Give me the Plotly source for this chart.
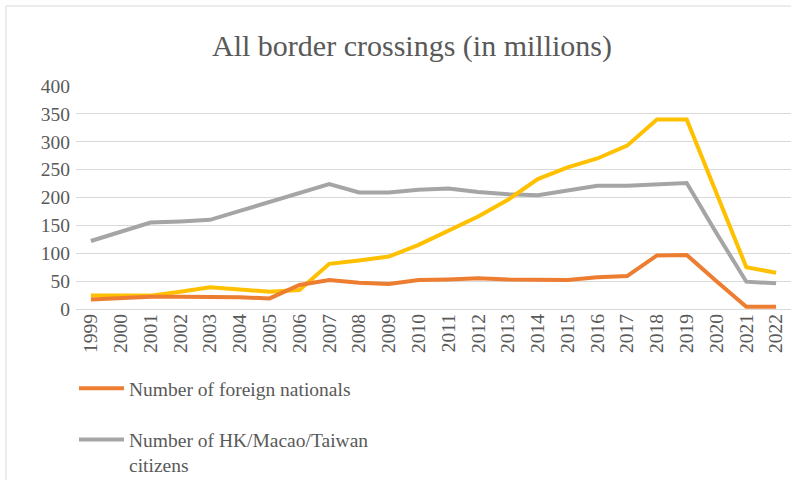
import plotly.graph_objects as go

years = [str(y) for y in range(1999, 2023)]

# Border crossings, millions of trips
foreign_nationals = [17, 20, 22, 22, 22, 21, 19, 43, 52, 47, 45, 52,
                     53, 55, 53, 53, 52, 57, 59, 96, 97, 50, 4, 4]
hk_macao_taiwan = [122, 139, 155, 157, 160, 176, 192, 208, 224, 209, 209, 214,
                   216, 210, 206, 204, 213, 221, 221, 223, 226, 136, 49, 46]
mainland_citizens = [24, 24, 24, 31, 39, 35, 31, 34, 81, 87, 94, 115,
                     141, 166, 196, 233, 254, 270, 293, 340, 340, 206, 75, 65]

y_ticks = [0, 50, 100, 150, 200, 250, 300, 350, 400]

FONT = "Liberation Serif"
TEXT = "#595959"
GRID = "#d9d9d9"
TICK_SIZE = 19.5

fig = go.Figure()
fig.add_trace(go.Scatter(x=years, y=hk_macao_taiwan, mode="lines",
                         name="Number of HK/Macao/Taiwan<br>citizens",
                         legendgroup="b", legendrank=2,
                         line=dict(color="#A5A5A5", width=4)))
fig.add_trace(go.Scatter(x=years, y=mainland_citizens, mode="lines",
                         name="Number of mainland citizens",
                         showlegend=False,
                         line=dict(color="#FFC000", width=4)))
fig.add_trace(go.Scatter(x=years, y=foreign_nationals, mode="lines",
                         name="Number of foreign nationals",
                         legendgroup="a", legendrank=1,
                         line=dict(color="#ED7D31", width=4)))

fig.update_layout(
    width=791, height=480,
    margin=dict(l=76, r=0, t=86, b=171, autoexpand=False),
    paper_bgcolor="white", plot_bgcolor="white",
    font=dict(family=FONT, color=TEXT, size=TICK_SIZE),
    title=dict(text="All border crossings (in millions)",
               x=412 / 791, xanchor="center",
               y=1 - 45 / 480, yanchor="middle",
               font=dict(size=30, color=TEXT, family=FONT)),
    xaxis=dict(type="category", tickangle=-90, showgrid=False,
               showline=False, ticks="", tickfont=dict(size=TICK_SIZE, family=FONT),
               tickmode="linear", dtick=1, automargin=False,
               range=[-0.5, 23.5]),
    yaxis=dict(range=[0, 400], tickvals=y_ticks, showgrid=True,
               gridcolor=GRID, gridwidth=1, zeroline=True,
               zerolinecolor=GRID, zerolinewidth=1, ticks="",
               automargin=False,
               tickfont=dict(size=TICK_SIZE, family=FONT), ticklabelstandoff=5),
    showlegend=True,
    legend=dict(xref="container", yref="container",
                x=74 / 791, y=1 - 369 / 480, xanchor="left", yanchor="top",
                orientation="v", traceorder="grouped", tracegroupgap=23,
                valign="top", itemwidth=45,
                font=dict(size=TICK_SIZE, color=TEXT, family=FONT)),
    shapes=[dict(type="rect", xref="paper", yref="paper",
                 x0=(6 - 76) / 715, x1=1.2,
                 y0=-2, y1=(309 - 6) / 223,
                 line=dict(color=GRID, width=1), layer="below")],
)

fig.write_html("out.html")
